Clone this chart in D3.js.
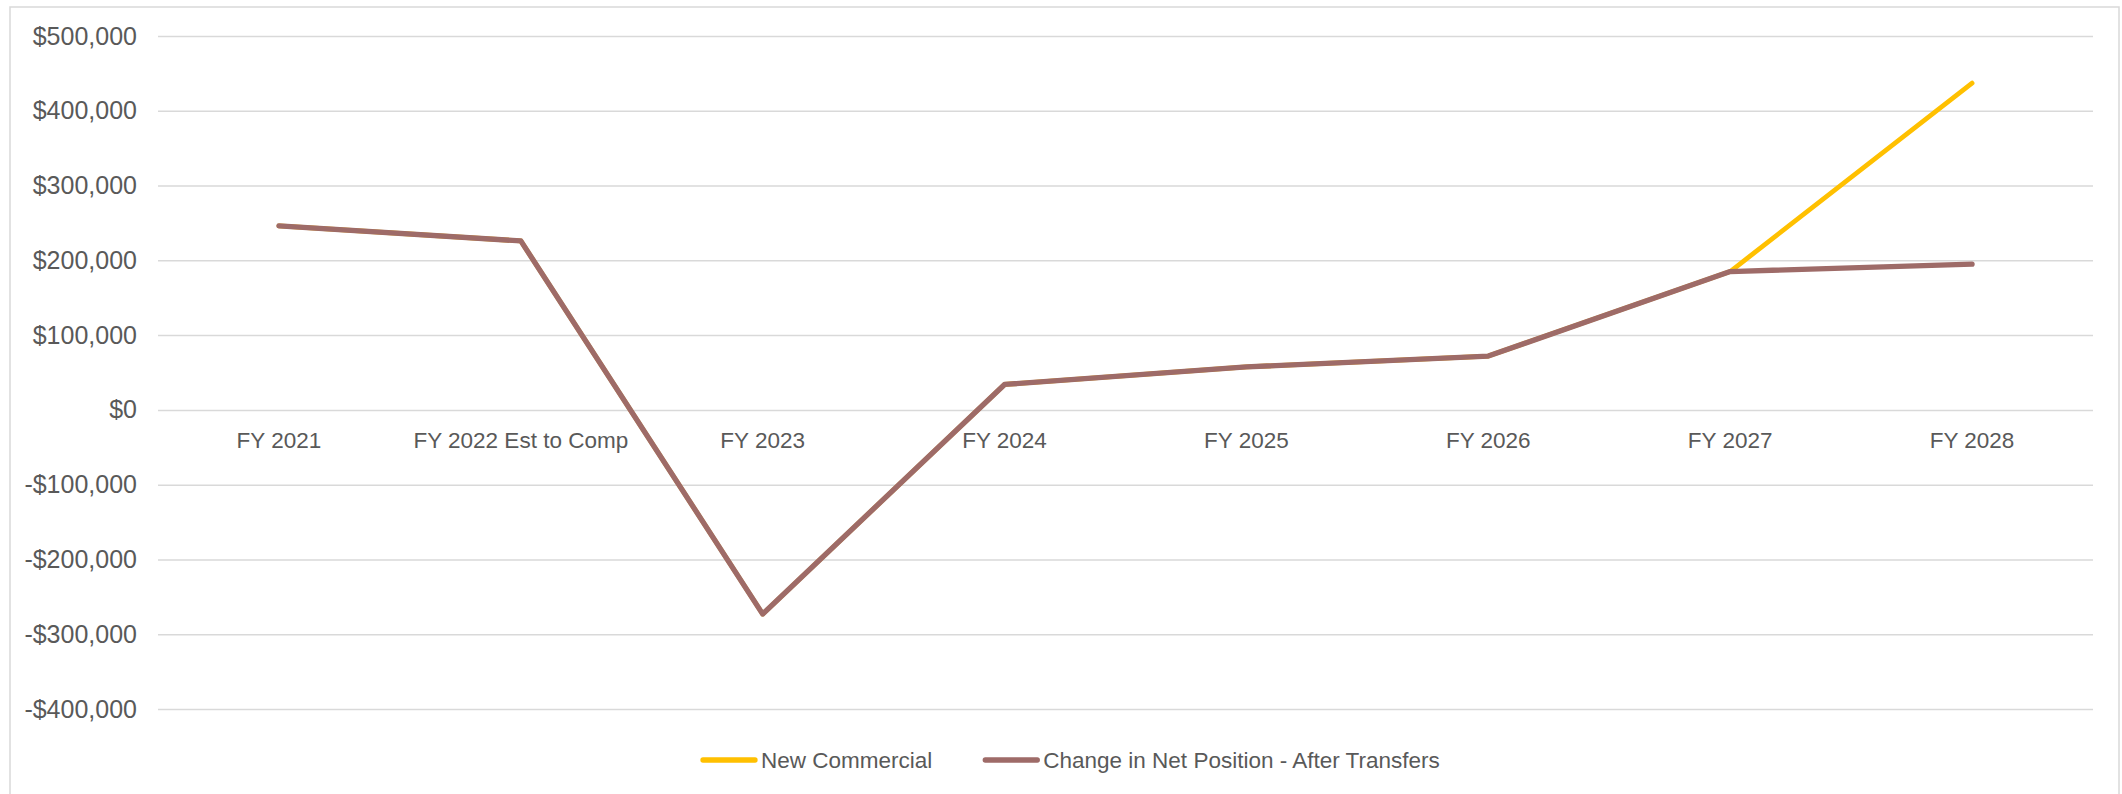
<!DOCTYPE html>
<html>
<head>
<meta charset="utf-8">
<script src="https://cdn.jsdelivr.net/npm/d3@7"></script>
<style>
  body { margin: 0; background: #fff; }
  svg { display: block; font-family: "Liberation Sans", Arial, sans-serif; }
  .axis text { fill: #595959; }
  .axis .domain { display: none; }
</style>
</head>
<body>
<div id="chart"></div>
<script>
// data
const categories = ["FY 2021", "FY 2022 Est to Comp", "FY 2023", "FY 2024", "FY 2025", "FY 2026", "FY 2027", "FY 2028"]
const newCommercial = [246000, 226000, -273000, 34000, 57500, 72000, 185000, 437000]
const netPosition = [246000, 226000, -273000, 34000, 57500, 72000, 185000, 195000]
const yTicks = [-400000, -300000, -200000, -100000, 0, 100000, 200000, 300000, 400000, 500000]
const seriesNames = ["New Commercial", "Change in Net Position - After Transfers"]
const seriesColors = ["#FFC000", "#9E6B68"]

// SVG and margin
const W = 2122, H = 794
const margin = ({top: 36, right: 29, bottom: 85, left: 158})
const width = W - margin.left - margin.right,
    height = H - margin.top - margin.bottom

const svg = d3.select("#chart").append("svg")
    .attr("width", W)
    .attr("height", H)

// chart border
svg.append("rect")
    .attr("x", 10).attr("y", 7)
    .attr("width", 2109).attr("height", 800)
    .attr("fill", "none")
    .attr("stroke", "#d9d9d9")
    .attr("stroke-width", 1.5)

const g = svg.append("g")
    .attr("transform", "translate(" + margin.left + "," + margin.top + ")")

// Scaling
const xScale = d3.scaleBand()
    .domain(categories)
    .range([0, width])
    .padding(0)
const yScale = d3.scaleLinear()
    .domain([-400000, 500000])
    .range([673, 0])

const money = v => (v < 0 ? "-$" : "$") + d3.format(",")(Math.abs(v))

// Axis + gridlines
const yAxis = d3.axisLeft(yScale)
    .tickValues(yTicks)
    .tickSize(-width)
    .tickPadding(21)
    .tickFormat(money)

g.append("g")
    .attr("class", "axis y-axis")
    .call(yAxis)
    .call(s => s.selectAll(".tick line").attr("stroke", "#d9d9d9").attr("stroke-width", 1.5))
    .call(s => s.selectAll("text").attr("font-size", 25))

const xAxis = d3.axisBottom(xScale)
    .tickSize(0)
    .tickPadding(22)

g.append("g")
    .attr("class", "axis x-axis")
    .attr("transform", "translate(0," + yScale(0) + ")")
    .call(xAxis)
    .call(s => s.selectAll("text").attr("font-size", 22.5))

// lines
const line = d3.line()
    .x((d, i) => xScale(categories[i]) + xScale.bandwidth() / 2)
    .y(d => yScale(d))

g.append("path")
    .datum(newCommercial)
    .attr("fill", "none")
    .attr("stroke", seriesColors[0])
    .attr("stroke-width", 4.8)
    .attr("stroke-linecap", "round")
    .attr("stroke-linejoin", "round")
    .attr("d", line)

g.append("path")
    .datum(netPosition)
    .attr("fill", "none")
    .attr("stroke", seriesColors[1])
    .attr("stroke-width", 5.3)
    .attr("stroke-linecap", "round")
    .attr("stroke-linejoin", "round")
    .attr("d", line)

// legend
const legend = svg.append("g")
    .attr("transform", "translate(701,760)")
let lx = 0
seriesNames.forEach((name, i) => {
    legend.append("line")
        .attr("x1", lx + 2).attr("x2", lx + 54)
        .attr("y1", 0).attr("y2", 0)
        .attr("stroke", seriesColors[i])
        .attr("stroke-width", 5.3)
        .attr("stroke-linecap", "round")
    const t = legend.append("text")
        .attr("x", lx + 60)
        .attr("y", 0)
        .attr("dy", "0.35em")
        .attr("font-size", 22.5)
        .attr("fill", "#595959")
        .text(name)
    lx += 60 + t.node().getComputedTextLength() + 51
})
</script>
</body>
</html>
